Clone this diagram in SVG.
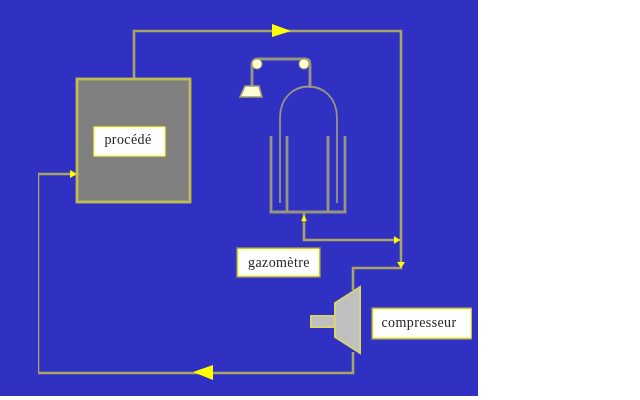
<svg xmlns="http://www.w3.org/2000/svg" width="640" height="400" viewBox="0 0 640 400">
<defs>
<filter id="soft" x="0" y="0" width="100%" height="100%"><feGaussianBlur stdDeviation="0.45"/></filter>
<style>
.w{fill:none;stroke:#a8a468;stroke-width:2.6}
.g{fill:none;stroke:#969680;stroke-width:2.8}
.a{fill:#ffff00;stroke:none}
.b{fill:#fff;stroke:#8c8a60;stroke-width:1.6}
.i{fill:none;stroke:#ffff90;stroke-width:1.6}
.t{font-family:"Liberation Serif",serif;font-size:14px;letter-spacing:.4px;fill:#222;text-anchor:middle}
</style></defs>
<rect width="640" height="400" fill="#fff"/>
<rect width="478" height="396" fill="#3030c2"/>
<g filter="url(#soft)">
<g id="connectors">
<path class="w" d="M134 79V31H401V268H353V290"/>
<path class="w" d="M353 352V373H38V174H77"/>
<path class="w" d="M304 213V240H401"/>
<polygon class="a" points="272,24 291,31 272,37"/>
<polygon class="a" points="213,365 193,372 213,380"/>
<polygon class="a" points="70,170 77,174 70,178"/>
<polygon class="a" points="394,236 400,240 394,244"/>
<polygon class="a" points="397,262 401,268 405,262"/>
<polygon class="a" points="301,221 304,215 307,221"/>
</g>
<g id="procede">
<rect x="77" y="79" width="113" height="123" fill="#808080" stroke="#c0bc50" stroke-width="2.8"/>
<rect class="b" x="93" y="126" width="73" height="31"/>
<rect class="i" x="94.500" y="127.500" width="70" height="28"/>
<text class="t" x="128" y="144">procédé</text>
</g>
<g id="gazometre">
<path class="g" d="M271 136V212H345V136M287 136V212M328 136V212"/>
<path class="g" style="stroke-width:1.8" d="M280 203V118C280 76 337 76 337 118V203"/>
<path class="g" d="M310 88V64Q310 59 305 59H258Q253 59 252 64V86"/>
<circle cx="257" cy="64" r="5" fill="#ffffd0" stroke="#a8a468"/>
<circle cx="304" cy="64" r="5" fill="#ffffd0" stroke="#a8a468"/>
<polygon points="245,86 259,86 262,97 240,97" fill="#ffffd8" stroke="#a09c70" stroke-width="1.6"/>
<rect class="b" x="237" y="248" width="83" height="29"/>
<rect class="i" x="238.500" y="249.500" width="80" height="26"/>
<text class="t" x="279" y="267">gazomètre</text>
</g>
<g id="compresseur">
<rect x="311" y="316" width="25" height="11" fill="#c0c0c0" stroke="#d8d470" stroke-width="2"/>
<polygon points="335,303 360,287 360,353 335,337" fill="#c0c0c0" stroke="#d8d470" stroke-width="2"/>
<rect class="b" x="372" y="308" width="100" height="31"/>
<rect class="i" x="373.500" y="309.500" width="97" height="28"/>
<text class="t" x="419" y="327">compresseur</text>
</g>
</g>
</svg>
